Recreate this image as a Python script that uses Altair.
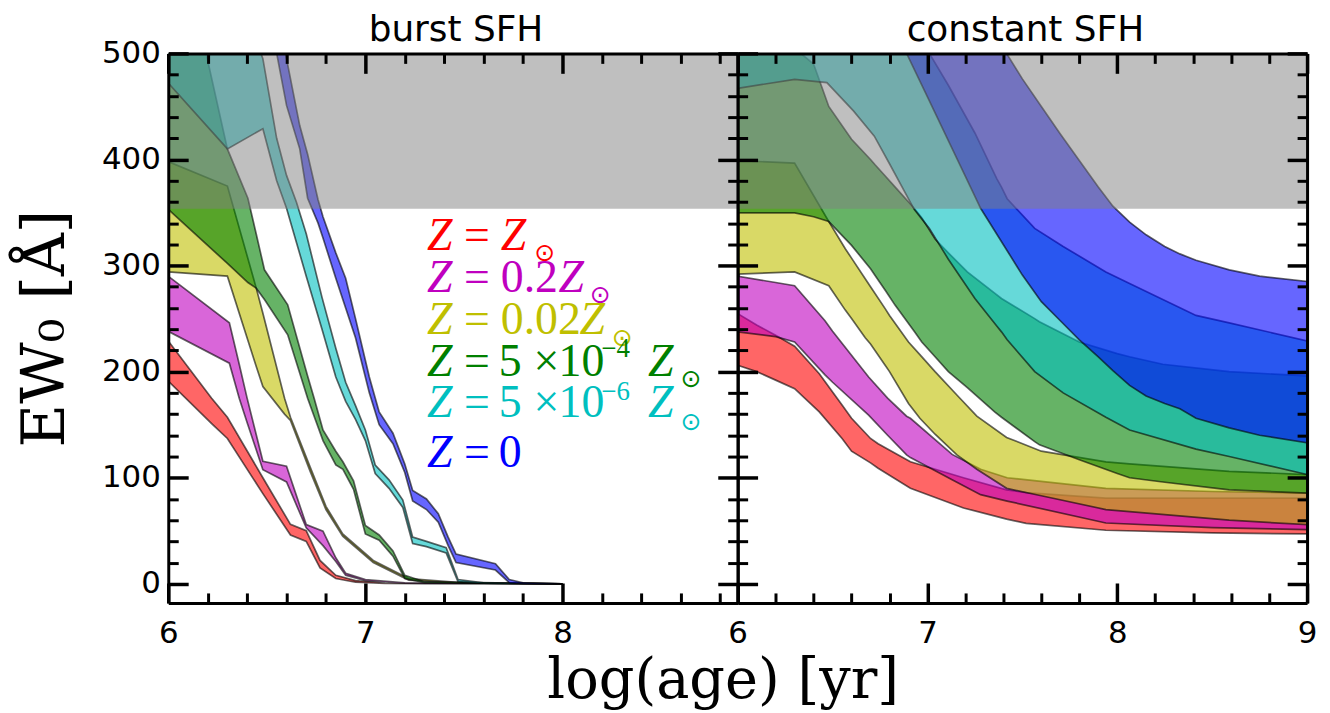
import altair as alt
import pandas as pd

# ---------------- data ----------------
# burst SFH panel
burst_red_x  = [6.0, 6.22, 6.3, 6.48, 6.62, 6.7, 6.77, 6.85, 6.95, 7.1, 7.3, 8.0]
burst_red_lo = [191, 151, 137, 85, 46, 40, 15, 5, 1.5, 0.3, 0.1, 0]
burst_red_hi = [229, 175, 157, 100, 56, 50, 22, 8, 3, 0.5, 0.2, 0]

burst_mag_x  = [6.0, 6.31, 6.36, 6.40, 6.48, 6.6, 6.7, 6.785, 6.85, 6.9, 7.0, 7.2, 8.0]
burst_mag_lo = [238, 208, 175, 152, 107.6, 96, 52.7, 36, 21, 8, 3, 0.5, 0]
burst_mag_hi = [290, 246, 207, 175, 115.5, 110.8, 55.8, 49.6, 24.5, 10, 4, 1, 0]

burst_yel_x  = [6.0, 6.3, 6.446, 6.48, 6.59, 6.62, 6.72, 6.8, 6.885, 7.04, 7.22, 7.5, 8.0]
burst_yel_lo = [294, 290, 205, 186, 160, 154, 106, 70, 45, 20, 3.5, 0.8, 0]
burst_yel_hi = [398, 375, 279, 255, 175, 157, 110, 73, 47, 22, 5, 1, 0]

burst_grn_x  = [6.0, 6.3, 6.404, 6.446, 6.488, 6.606, 6.707, 6.74, 6.785, 6.85, 6.886, 6.94,
                7.0, 7.07, 7.14, 7.2, 7.3, 8.0]
burst_grn_lo = [353, 302, 284, 278.7, 268, 234.7, 175, 158, 135, 112, 108, 89, 47, 41, 26, 5, 1, 0]
burst_grn_hi = [660, 410, 363.5, 330, 296, 263, 196, 175, 145, 125, 115, 97, 55, 46, 31, 8, 2, 0]

burst_cyn_x  = [6.0, 6.3, 6.48, 6.55, 6.6, 6.65, 6.7, 6.78, 6.85, 6.9, 6.95, 7.0, 7.05, 7.12,
                7.19, 7.24, 7.31, 7.41, 7.47, 7.6, 8.0]
burst_cyn_lo = [472, 410, 429, 380, 354, 322, 290, 240, 195, 172, 155, 135, 104, 90, 72, 38, 35,
                29, 2, 0.5, 0]
burst_cyn_hi = [700, 590, 495, 420, 385, 360, 330, 270, 222, 190, 168, 145, 112, 98, 79, 44, 40,
                34, 4, 1, 0]

burst_blu_x  = [6.0, 6.3, 6.48, 6.55, 6.6, 6.667, 6.707, 6.76, 6.785, 6.85, 6.9, 6.95, 7.02,
                7.07, 7.14, 7.2, 7.24, 7.31, 7.37, 7.42, 7.46, 7.66, 7.73, 7.8, 8.0]
burst_blu_lo = [1100, 800, 580, 500, 451, 410, 363.5, 340, 326, 288, 260, 232, 180, 150, 132,
                105, 78, 70, 58, 36, 20, 13, 1, 0.3, 0]
burst_blu_hi = [1200, 880, 620, 545, 495, 432, 405, 362, 346, 312, 288, 250, 195, 162, 142,
                113, 88, 80, 66, 44, 28, 19, 4, 1, 0]

# constant SFH panel
const_red_x  = [6.0, 6.1, 6.2, 6.3, 6.43, 6.55, 6.6, 6.7, 6.74, 6.91, 7.19, 7.417,
                7.52, 7.94, 8.5, 9.0]
const_red_lo = [206, 200, 192, 184, 162, 137, 125, 114, 109, 90, 71.5, 61, 57, 50.5, 48, 47]
const_red_hi = [254.7, 244, 234.3, 224, 198, 168.5, 156, 137, 132, 115, 100, 88.6, 86,
                80.8, 80.8, 80.8]

const_mag_x  = [6.0, 6.2, 6.3, 6.46, 6.5, 6.69, 6.79, 6.89, 6.91, 7.13, 7.28, 7.42, 7.94, 8.5, 9.0]
const_mag_lo = [237.5, 233, 228, 197, 190, 159, 140, 121.5, 119, 98, 84, 78, 57.3, 53, 51]
const_mag_hi = [290, 284, 281, 248, 238, 195, 175, 158, 156, 122, 108, 100, 90, 87, 85.5]

const_yel_x  = [6.0, 6.3, 6.48, 6.567, 6.6, 6.672, 6.7, 6.777, 6.8, 6.9, 6.96, 7.04, 7.155,
                7.26, 7.417, 7.6, 7.94, 8.065, 8.59, 9.0]
const_yel_lo = [292, 294, 281, 258, 250, 232, 226, 206, 200, 170, 156, 141, 121.5, 108, 90, 83,
                70, 68, 60, 55.7]
const_yel_hi = [399, 396.6, 341.5, 315.8, 307, 287.6, 280, 259.4, 253, 228, 216, 200, 178, 158,
                138, 125, 115, 113, 106, 103]

const_grn_x  = [6.0, 6.3, 6.4, 6.48, 6.6, 6.7, 6.724, 6.78, 6.83, 6.93, 6.97, 7.04, 7.11, 7.21,
                7.354, 7.39, 7.565, 7.59, 7.8, 8.0, 8.065, 8.24, 8.59, 9.0]
const_grn_lo = [349.6, 349.6, 346, 341.5, 319, 297, 290.7, 276, 262.5, 238, 228, 214, 200, 185,
                162, 157, 134, 131, 117, 104, 100, 96, 88.6, 85.5]
const_grn_hi = [505, 505, 490, 450, 419, 400, 395, 384, 374, 354, 345, 325, 312, 294, 274, 269,
                250, 247, 228, 217, 214, 207, 200, 196]

const_cyn_x  = [6.0, 6.3, 6.47, 6.61, 6.72, 6.8, 6.93, 6.97, 7.01, 7.11, 7.25, 7.365, 7.39, 7.42,
                7.565, 7.715, 7.94, 8.065, 8.415, 8.59, 9.0]
const_cyn_lo = [467, 475.6, 472.5, 445.8, 422, 396, 353, 344, 335, 306, 269, 243, 237.5, 230,
                200, 180, 157, 145, 127, 120, 103]
const_cyn_hi = [700, 650, 620, 590, 570, 550, 520, 512, 500, 470, 425, 382, 374, 363, 335, 318,
                294, 283, 253, 246, 229]

const_blu_x  = [6.0, 6.5, 6.89, 7.0, 7.2, 7.28, 7.42, 7.5, 7.6, 7.7, 7.8, 7.9, 7.977, 8.065,
                8.152, 8.25, 8.33, 8.415, 8.59, 8.75, 9.0]
const_blu_lo = [700, 600, 500, 459, 384, 354, 314, 291, 266, 248, 230, 214, 201, 187, 177,
                170, 165, 156, 147, 140, 133]
const_blu_hi = [1000, 850, 690, 660, 590, 560, 499, 476, 450, 424, 399, 374, 356, 341, 329,
                318, 311, 305, 296, 290, 285]

# shaded (gray) region
gray_lo = [353.5]
gray_hi = [520]

band_colors = ["#ff0000", "#bf00bf", "#bfbf00", "#008000", "#00bfbf", "#0000ff"]
panel_titles = ["burst SFH", "constant SFH"]
x_title = "log(age) [yr]"
y_title = "EW\u2080 [\u00c5]"

# legend text pieces
legend_lines = [
    ["Z", "=", "Z", "\u2299"],
    ["Z", "=", "0.2", "Z", "\u2299"],
    ["Z", "=", "0.02", "Z", "\u2299"],
    ["Z", "=", "5", "\u00d7", "10", "\u22124", "Z", "\u2299"],
    ["Z", "=", "5", "\u00d7", "10", "\u22126", "Z", "\u2299"],
    ["Z", "=", "0"],
]

# ---------------- layout ----------------
W, H = 572, 552
Y_DOM = [-18, 500]
BURST_XDOM = [6.0, 6.0 + W / 198.0]
CONST_XDOM = [6.0, 9.0]

major_y = [0, 100, 200, 300, 400, 500]
minor_y = [v for v in range(20, 500, 20) if v % 100 != 0]
minor_x = [6.2, 6.4, 6.6, 6.8, 7.2, 7.4, 7.6, 7.8, 8.2, 8.4, 8.6, 8.8]


def frame(df_x, lo, hi):
    return pd.DataFrame({"x": df_x, "lo": lo, "hi": hi})


burst_data = [
    frame(burst_red_x, burst_red_lo, burst_red_hi),
    frame(burst_mag_x, burst_mag_lo, burst_mag_hi),
    frame(burst_yel_x, burst_yel_lo, burst_yel_hi),
    frame(burst_grn_x, burst_grn_lo, burst_grn_hi),
    frame(burst_cyn_x, burst_cyn_lo, burst_cyn_hi),
    frame(burst_blu_x, burst_blu_lo, burst_blu_hi),
]
const_data = [
    frame(const_red_x, const_red_lo, const_red_hi),
    frame(const_mag_x, const_mag_lo, const_mag_hi),
    frame(const_yel_x, const_yel_lo, const_yel_hi),
    frame(const_grn_x, const_grn_lo, const_grn_hi),
    frame(const_cyn_x, const_cyn_lo, const_cyn_hi),
    frame(const_blu_x, const_blu_lo, const_blu_hi),
]


def inward(orient, values, size, width):
    return alt.Axis(orient=orient, values=values, tickSize=size, offset=-size,
                    tickWidth=width, tickColor="black", ticks=True, labels=False,
                    domain=False, grid=False, title=None, zindex=2)


def border(orient):
    return alt.Axis(orient=orient, ticks=False, labels=False, domain=True,
                    domainColor="black", domainWidth=3, grid=False, title=None, zindex=2)


def x_label_axis(values, with_title):
    kw = dict(orient="bottom", values=values, ticks=False, domain=True,
              domainColor="black", domainWidth=3, grid=False, labelFont="DejaVu Sans",
              labelFontSize=31, labelColor="black", labelPadding=16, labelFlush=False,
              labelOverlap=False, format="d", zindex=2)
    if with_title:
        kw.update(title=x_title, titleFont="DejaVu Serif", titleFontSize=56,
                  titleFontWeight="normal", titleColor="black", titleX=557, titleY=95,
                  titleBaseline="alphabetic", titleAlign="center")
    else:
        kw.update(title=None)
    return alt.Axis(**kw)


def y_label_axis(with_labels):
    kw = dict(orient="left", values=major_y, ticks=False, domain=True, domainColor="black",
              domainWidth=3, grid=False, zindex=2)
    if with_labels:
        kw.update(labels=True, labelFont="DejaVu Sans", labelFontSize=31, labelColor="black",
                  labelPadding=8, labelFlush=False, labelOverlap=False, format="d",
                  title=y_title, titleFont="DejaVu Serif", titleFontSize=60,
                  titleFontWeight="normal", titleColor="black", titlePadding=25)
    else:
        kw.update(labels=False, title=None)
    return alt.Axis(**kw)


def text_layer(txt, px, py, **style):
    return alt.Chart(alt.Data(values=[{}])).mark_text(text=txt, **style).encode(
        x=alt.value(px), y=alt.value(py))


def panel(data, xdom, major_x, is_left, title):
    xs = alt.Scale(domain=xdom, nice=False, zero=False)
    ys = alt.Scale(domain=Y_DOM, nice=False, zero=False)
    axes = [
        (x_label_axis(major_x, is_left), y_label_axis(is_left)),
        (inward("bottom", major_x, 20, 3.5), inward("left", major_y, 20, 3.5)),
        (inward("bottom", minor_x, 10, 3), inward("left", minor_y, 10, 3)),
        (inward("top", major_x, 20, 3.5), inward("right", major_y, 20, 3.5)),
        (inward("top", minor_x, 10, 3), inward("right", minor_y, 10, 3)),
        (border("top"), border("right")),
    ]
    layers = []
    for df, col, (ax_x, ax_y) in zip(data, band_colors, axes):
        layers.append(
            alt.Chart(df).mark_area(clip=True, fill=col, fillOpacity=0.6, stroke="black",
                                    strokeOpacity=0.6, strokeWidth=1.7)
            .encode(x=alt.X("x:Q", scale=xs, axis=ax_x),
                    y=alt.Y("lo:Q", scale=ys, axis=ax_y),
                    y2="hi:Q")
        )
    gray = alt.Chart(pd.DataFrame({"lo": gray_lo, "hi": gray_hi})).mark_rect(
        clip=True, color="gray", opacity=0.5
    ).encode(y=alt.Y("lo:Q", scale=ys, axis=None), y2="hi:Q")
    layers.append(gray)

    # panel title
    layers.append(text_layer(title, W / 2 + 3, -12, font="DejaVu Sans", fontSize=36,
                             color="black", align="center", baseline="alphabetic"))

    if is_left:
        baselines = [197, 240, 282, 324, 365, 415]
        xpos = [
            [260, 297, 334, 378],
            [260, 297, 334, 392, 434],
            [260, 297, 334, 413, 456],
            [260, 297, 332, 367, 392, 435, 482, 525],
            [260, 297, 332, 367, 392, 435, 482, 525],
            [260, 297, 332],
        ]
        sun_dy = [3.5, 3, 4, 3, 5]
        sup_dy = {3: -19, 4: -17}
        for li, (pieces, col, bl) in enumerate(zip(legend_lines, band_colors, baselines)):
            for pi, txt in enumerate(pieces):
                px = xpos[li][pi]
                if txt == "\u2299":
                    layers.append(text_layer(txt, px, bl + sun_dy[li], font="DejaVu Sans",
                                             fontSize=25, color=col, align="center",
                                             baseline="middle"))
                elif txt.startswith("\u2212"):
                    layers.append(text_layer(txt, px, bl + sup_dy[li], font="Liberation Serif",
                                             fontSize=27, color=col, align="left",
                                             baseline="alphabetic"))
                else:
                    layers.append(text_layer(txt, px, bl, font="Liberation Serif", fontSize=46,
                                             color=col, align="left", baseline="alphabetic",
                                             fontStyle="italic" if txt == "Z" else "normal"))

    return alt.layer(*layers).resolve_axis(x="independent", y="independent").properties(
        width=W, height=H)


left = panel(burst_data, BURST_XDOM, [6, 7, 8], True, panel_titles[0])
right = panel(const_data, CONST_XDOM, [6, 7, 8, 9], False, panel_titles[1])

chart = alt.hconcat(left, right, spacing=0, bounds="flush").properties(
    padding={"left": 7, "top": 3, "right": 5, "bottom": 5}
).configure_view(strokeWidth=0)

chart.save("out.html", embed_options={"renderer": "svg", "actions": False})
